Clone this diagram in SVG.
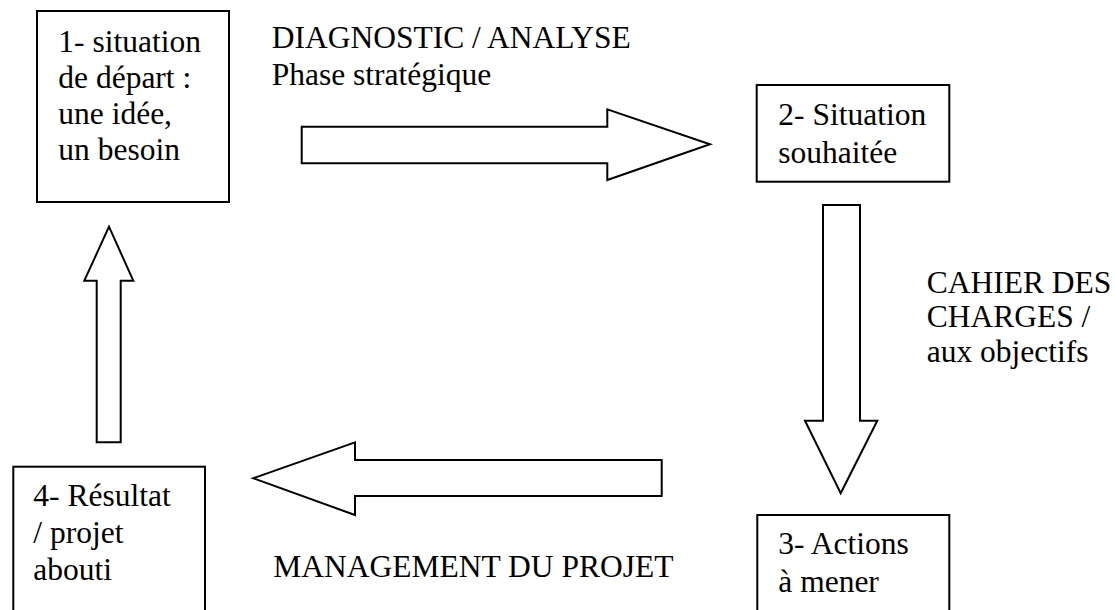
<svg xmlns="http://www.w3.org/2000/svg" width="1115" height="610" viewBox="0 0 1115 610" font-family="'Liberation Serif', 'DejaVu Serif', serif">
<style>
.box{fill:#fff;stroke:#000;stroke-width:2}
.arr{fill:#fff;stroke:#000;stroke-width:2;stroke-linejoin:miter}
.t{font-family:'Liberation Serif','DejaVu Serif',serif;font-size:31.5px;fill:#000}
</style>
<rect width="1115" height="610" fill="#fff"/>
<g id="connectors">
<polygon class="arr" points="301.7,126.7 607.3,126.7 607.3,109.3 710,144.3 607.3,180 607.3,163.3 301.7,163.3"/>
<polygon class="arr" points="823,205 860,205 860,420.7 877.3,420.7 840.7,493.3 805,420.7 823,420.7"/>
<polygon class="arr" points="661.7,460 355,460 355,442.3 253.3,478.3 355,515 355,496 661.7,496"/>
<polygon class="arr" points="96.7,442.3 96.7,280.7 84.3,280.7 109,226.7 133.3,280.7 120.7,280.7 120.7,442.3"/>
</g>
<g id="label-diagnostic" class="t">
<text x="271.7" y="48.3">DIAGNOSTIC / ANALYSE</text>
<text x="271.7" y="85">Phase stratégique</text>
</g>
<g id="label-cahier" class="t">
<text x="926.7" y="292.7">CAHIER DES</text>
<text x="926.7" y="327.3">CHARGES /</text>
<text x="926.7" y="361.7">aux objectifs</text>
</g>
<g id="label-management" class="t">
<text x="273.3" y="576.7">MANAGEMENT DU PROJET</text>
</g>
<g id="node1" class="t">
<rect class="box" x="37" y="11" width="192" height="191"/>
<text x="58.3" y="51.7">1- situation</text>
<text x="58.3" y="88.3">de départ :</text>
<text x="58.3" y="124.3">une idée,</text>
<text x="58.3" y="160">un besoin</text>
</g>
<g id="node2" class="t">
<rect class="box" x="756.7" y="85" width="192.6" height="96.7"/>
<text x="778.3" y="125">2- Situation</text>
<text x="778.3" y="162.7">souhaitée</text>
</g>
<g id="node3" class="t">
<rect class="box" x="757.3" y="515" width="192" height="110"/>
<text x="778.3" y="554">3- Actions</text>
<text x="778.3" y="591.7">à mener</text>
</g>
<g id="node4" class="t">
<rect class="box" x="13.3" y="466.7" width="191.7" height="160"/>
<text x="33.3" y="506">4- Résultat</text>
<text x="33.3" y="543.3">/ projet</text>
<text x="33.3" y="580">abouti</text>
</g>
</svg>
